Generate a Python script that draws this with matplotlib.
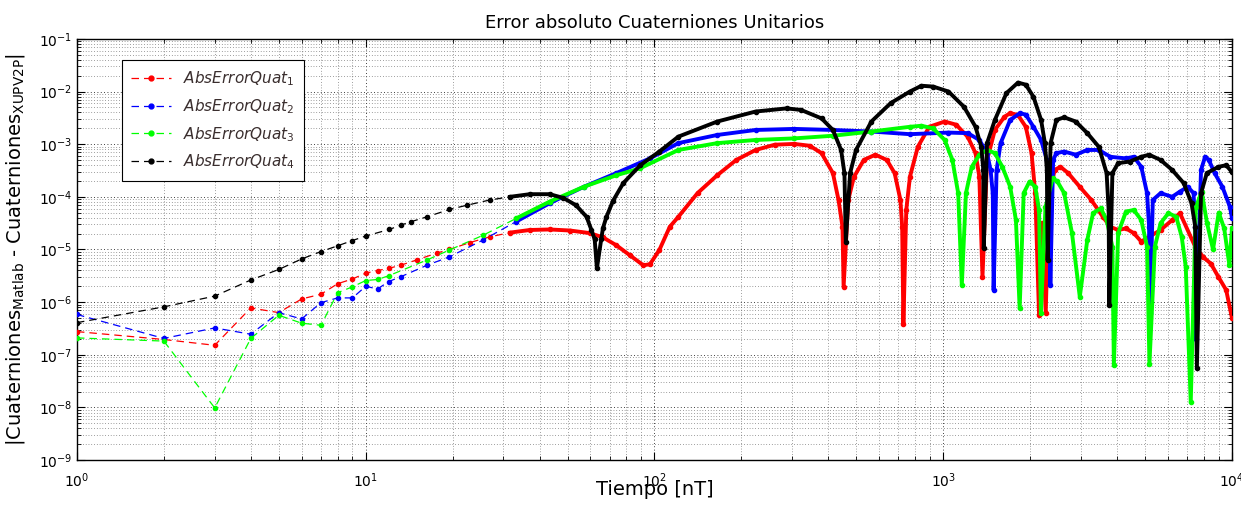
import numpy as np
import matplotlib
matplotlib.use("Agg")
import matplotlib.pyplot as plt
from matplotlib.ticker import LogLocator, NullFormatter
from matplotlib.lines import Line2D

# Sample times [nT] and log10 of the absolute error for each quaternion component
t_q1 = [1, 2, 3, 4, 5, 6, 7, 8, 9, 10, 11, 12, 13.2, 15, 17.6, 19.5, 22.9, 26.9, 31.6, 37,
        43.4, 51, 59.8, 66.3, 73.8, 82.2, 91.5, 96.5, 104, 113, 121, 141, 165, 192, 224,
        261, 305, 345, 379, 415, 434, 448, 452, 469, 491, 531, 582, 638, 679, 711, 721,
        728, 745, 767, 817, 895, 1012, 1109, 1216, 1294, 1334, 1368, 1419, 1510, 1630,
        1706, 1815, 1932, 2023, 2084, 2148, 2200, 2265, 2323, 2432, 2547, 2710, 2972,
        3258, 3573, 3793, 4036, 4295, 4571, 4852, 5164, 5662, 6209, 6607, 7464, 7943,
        8453, 8974, 9550, 10000]
e_q1 = [-6.56, -6.71, -6.82, -6.11, -6.20, -5.94, -5.85, -5.65, -5.56, -5.45, -5.40, -5.36,
        -5.30, -5.20, -5.07, -5.00, -4.87, -4.76, -4.68, -4.63, -4.62, -4.64, -4.69, -4.77,
        -4.92, -5.11, -5.30, -5.28, -5.01, -4.57, -4.38, -3.93, -3.59, -3.30, -3.11, -3.01,
        -2.995, -3.03, -3.17, -3.55, -4.06, -4.57, -5.71, -4.06, -3.62, -3.30, -3.20, -3.30,
        -3.55, -4.06, -4.57, -6.42, -4.25, -3.62, -3.05, -2.67, -2.57, -2.63, -2.86, -3.17,
        -3.62, -5.52, -3.30, -2.73, -2.48, -2.41, -2.445, -2.67, -3.17, -3.93, -6.25, -4.5,
        -6.2, -4.0, -3.49, -3.43, -3.55, -3.81, -4.06, -4.38, -4.57, -4.63, -4.60, -4.69,
        -4.85, -4.76, -4.63, -4.44, -4.31, -4.95, -5.14, -5.27, -5.52, -5.77, -6.30]

t_q2 = [1, 2, 3, 4, 5, 6, 7, 8, 9, 10, 11, 12, 13.2, 16.3, 19.5, 25.5, 33.2, 43.4, 56.9,
        73.8, 96.5, 121, 165, 224, 305, 415, 564, 767, 1043, 1216, 1334, 1419, 1459, 1485,
        1495, 1531, 1581, 1706, 1845, 1932, 2054, 2183, 2286, 2333, 2350, 2403, 2466, 2624,
        2877, 3155, 3459, 3793, 4295, 4571, 4852, 5082, 5164, 5200, 5321, 5662, 6209, 6607,
        7031, 7362, 7464, 7500, 7816, 8072, 8318, 8710, 9268, 9840, 10000]
e_q2 = [-6.235, -6.69, -6.49, -6.61, -6.20, -6.32, -6.01, -5.92, -5.92, -5.70, -5.75, -5.61,
        -5.52, -5.30, -5.14, -4.82, -4.47, -4.12, -3.81, -3.55, -3.27, -2.98, -2.825, -2.73,
        -2.71, -2.73, -2.76, -2.81, -2.78, -2.79, -2.92, -3.17, -3.49, -3.93, -5.77, -3.49,
        -2.98, -2.54, -2.41, -2.44, -2.67, -2.92, -3.30, -3.93, -5.68, -3.30, -3.17, -3.14,
        -3.20, -3.11, -3.11, -3.24, -3.27, -3.24, -3.43, -3.93, -4.57, -6.2, -4.06, -3.93,
        -4.00, -3.90, -3.81, -3.93, -4.57, -6.7, -3.49, -3.24, -3.30, -3.55, -3.81, -4.19,
        -4.40]

t_q3 = [1, 2, 3, 4, 5, 6, 7, 8, 9, 10, 11, 12, 16.3, 19.5, 25.5, 33.2, 43.4, 56.9, 73.8,
        89, 121, 165, 224, 305, 415, 564, 767, 841, 923, 1012, 1076, 1127, 1160, 1199, 1256,
        1334, 1419, 1510, 1603, 1706, 1786, 1840, 1900, 1991, 2084, 2148, 2180, 2260, 2393,
        2480, 2624, 2793, 2972, 3155, 3304, 3516, 3681, 3855, 3900, 4036, 4295, 4571, 4852,
        5082, 5180, 5408, 5662, 6025, 6412, 6700, 6918, 7200, 7500, 7852, 8200, 8600, 9000,
        9400, 9800, 10000]
e_q3 = [-6.68, -6.74, -8.01, -6.69, -6.25, -6.40, -6.44, -5.82, -5.71, -5.59, -5.57, -5.50,
        -5.20, -5.01, -4.73, -4.41, -4.09, -3.81, -3.59, -3.46, -3.11, -2.98, -2.92, -2.89,
        -2.84, -2.76, -2.67, -2.65, -2.70, -2.92, -3.30, -3.93, -5.68, -3.93, -3.43, -3.20,
        -3.11, -3.17, -3.43, -3.81, -4.44, -6.12, -3.93, -3.71, -3.81, -4.25, -6.21, -4.20,
        -3.65, -3.70, -3.93, -4.69, -5.90, -4.82, -4.31, -4.22, -4.44, -4.95, -7.20, -4.69,
        -4.28, -4.25, -4.44, -4.95, -7.17, -4.95, -4.50, -4.31, -4.38, -4.76, -5.33, -7.9,
        -4.2, -3.9, -4.5, -5.0, -4.3, -4.6, -5.3, -4.6]

t_q4 = [1, 2, 3, 4, 5, 6, 7, 8, 9, 10, 12.07, 13.2, 14.4, 16.3, 19.5, 22.4, 26.9, 31.6, 37,
        43.4, 48.3, 53.5, 58.2, 60.5, 62.1, 63.2, 65.4, 66.3, 68.1, 71.8, 78, 89.3, 104, 121,
        165, 224, 287, 322, 379, 415, 443, 455, 460, 476, 499, 564, 658, 767, 841, 923, 1043,
        1180, 1294, 1355, 1377, 1382, 1419, 1510, 1656, 1816, 1932, 2054, 2183, 2250, 2286,
        2300, 2355, 2466, 2624, 2877, 3155, 3459, 3681, 3741, 3760, 3855, 4036, 4426, 4852,
        5164, 5662, 6209, 6808, 7244, 7464, 7560, 7816, 8185, 8974, 9550, 10000]
e_q4 = [-6.39, -6.09, -5.886, -5.58, -5.38, -5.18, -5.04, -4.93, -4.83, -4.745, -4.62, -4.54,
        -4.47, -4.38, -4.24, -4.16, -4.06, -4.00, -3.95, -3.95, -4.02, -4.16, -4.38, -4.63,
        -4.81, -5.36, -4.81, -4.60, -4.39, -4.08, -3.74, -3.40, -3.14, -2.857, -2.57, -2.38,
        -2.32, -2.35, -2.51, -2.73, -3.11, -3.55, -4.85, -3.55, -3.11, -2.57, -2.22, -2.00,
        -1.89, -1.906, -2.00, -2.29, -2.67, -3.05, -3.49, -4.98, -2.98, -2.54, -2.03, -1.83,
        -1.87, -2.10, -2.54, -2.98, -3.49, -5.2, -2.98, -2.54, -2.49, -2.57, -2.79, -3.05,
        -3.55, -4.25, -6.05, -3.55, -3.36, -3.33, -3.24, -3.20, -3.30, -3.49, -3.74, -4.12,
        -4.57, -7.25, -3.93, -3.55, -3.43, -3.40, -3.53]

labels = [r"$\mathit{AbsErrorQuat}_{1}$", r"$\mathit{AbsErrorQuat}_{2}$",
          r"$\mathit{AbsErrorQuat}_{3}$", r"$\mathit{AbsErrorQuat}_{4}$"]
colors = ["#ff0000", "#0000ff", "#00ff00", "#000000"]

series = [(t_q1, e_q1), (t_q2, e_q2), (t_q3, e_q3), (t_q4, e_q4)]

fig = plt.figure(figsize=(12.41, 5.05), dpi=100)
ax = fig.add_axes([0.062, 0.089, 0.9307, 0.834])

dense_from = 30.0
for (t, e), c in zip(series, colors):
    t = np.asarray(t, float)
    v = 10.0 ** np.asarray(e, float)
    ax.plot(t, v, linestyle=(0, (6, 4)), color=c, lw=0.9, marker=".", ms=6, zorder=3)
    m = t >= dense_from
    ax.plot(t[m], v[m], linestyle="-", color=c, lw=2.8, solid_joinstyle="round", zorder=3)

ax.set_xscale("log")
ax.set_yscale("log")
ax.set_xlim(1, 1e4)
ax.set_ylim(1e-9, 1e-1)

ax.xaxis.set_major_locator(LogLocator(base=10, numticks=20))
ax.yaxis.set_major_locator(LogLocator(base=10, numticks=20))
ax.xaxis.set_minor_locator(LogLocator(base=10, subs=np.arange(2, 10), numticks=100))
ax.yaxis.set_minor_locator(LogLocator(base=10, subs=np.arange(2, 10), numticks=100))
ax.xaxis.set_minor_formatter(NullFormatter())
ax.yaxis.set_minor_formatter(NullFormatter())

ax.grid(True, which="major", linestyle=(0, (1, 3)), color="black", lw=0.6)
ax.grid(True, which="minor", linestyle=(0, (1, 3)), color="#444444", lw=0.5)
ax.tick_params(which="both", direction="in", top=True, right=True, labelsize=10)
ax.tick_params(which="major", length=6, width=0.8)
ax.tick_params(which="minor", length=3, width=0.6)
ax.tick_params(axis="x", pad=8)
for s in ax.spines.values():
    s.set_linewidth(1.0)

ax.set_title("Error absoluto Cuaterniones Unitarios", fontsize=13, pad=8)
ax.set_xlabel("Tiempo [nT]", fontsize=14, labelpad=-7)
ax.set_ylabel(r"|Cuaterniones$_{\mathrm{Matlab}}$ - Cuaterniones$_{\mathrm{XUPV2P}}$|",
              fontsize=14, labelpad=8)

handles = [Line2D([0], [0], color=c, linestyle=(0, (6, 4)), lw=0.9, marker=".", ms=7)
           for c in colors]
leg = ax.legend(handles, labels, loc="upper left", bbox_to_anchor=(0.039, 0.95),
                borderaxespad=0, fontsize=11, frameon=True, fancybox=False,
                edgecolor="black", framealpha=1, handlelength=2.6, labelspacing=0.6,
                borderpad=0.6, labelcolor="#3a2e2e")
leg.get_frame().set_linewidth(0.8)

fig.savefig("out.png", dpi=100)
